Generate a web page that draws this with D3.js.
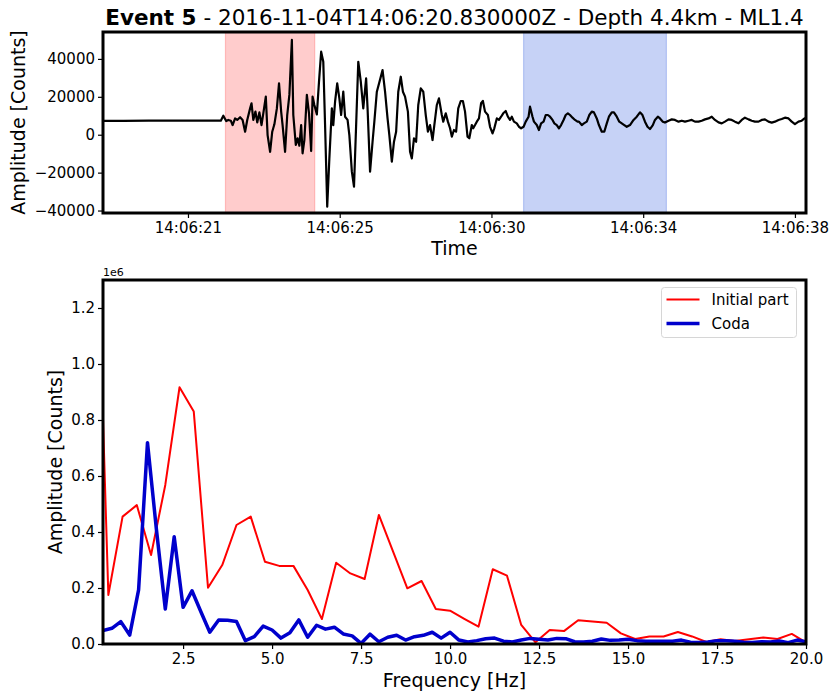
<!DOCTYPE html>
<html>
<head>
<meta charset="utf-8">
<script src="https://cdn.jsdelivr.net/npm/d3@7"></script>
<style>
  body { margin: 0; background: #fff; }
  text { font-family: "DejaVu Sans", sans-serif; fill: #000; }
</style>
</head>
<body>
<svg id="chart" width="832" height="691"></svg>
<script>
// ---- Event metadata ----
const titleBold = "Event 5";
const titleRest = " - 2016-11-04T14:06:20.830000Z - Depth 4.4km - ML1.4";

// ---- Waveform: [seconds after 14:06:00 UTC, amplitude in counts] ----
const tracePoints = [
  [19.22, 7300], [19.80, 7350], [20.50, 7400], [21.20, 7450], [21.90, 7450], [22.45, 7400],
  [22.52, 7400], [22.59, 10000], [22.67, 7200], [22.73, 7800], [22.80, 7400], [22.85, 5100],
  [22.92, 8600], [22.98, 7800], [23.06, 9200], [23.13, 7800], [23.20, 1600], [23.26, 7800],
  [23.34, 13900], [23.38, 16600], [23.43, 7800], [23.49, 12200], [23.54, 6500], [23.60, 11800],
  [23.66, 5100], [23.71, 11300], [23.78, 20100], [23.83, -200], [23.90, -9000], [23.96, 1600],
  [24.02, 5500], [24.09, 13900], [24.15, 27100], [24.21, 12200], [24.25, 5100], [24.32, -9000],
  [24.38, 10400], [24.44, 21000], [24.51, 50000], [24.55, 10400], [24.62, -5400], [24.67, -1900],
  [24.72, -5800], [24.77, 5100], [24.81, -9800], [24.86, -2800], [24.93, 21000], [24.99, 11300],
  [25.05, -8600], [25.09, 20100], [25.14, 15700], [25.21, 10700], [25.27, 28000], [25.33, 43800],
  [25.39, 38500], [25.44, 5100], [25.50, -38000], [25.56, -12500],
  [25.63, 13900], [25.67, 5100], [25.72, 17400], [25.78, 27100], [25.84, 19200], [25.89, 10400],
  [25.95, 22700], [26.00, 9500], [26.07, 7800], [26.12, -200], [26.19, -19500], [26.25, -27400],
  [26.31, 5100], [26.37, 38500], [26.44, 28000], [26.51, 13900], [26.59, 29700], [26.63, 13900],
  [26.70, -19500], [26.77, -3700], [26.82, 6900], [26.89, 22700], [27.05, 34100], [27.12, 22700],
  [27.19, 8600], [27.24, -200], [27.31, -14200], [27.37, -3700], [27.43, 1600], [27.49, 22700],
  [27.56, 30600], [27.62, 22700], [27.68, 20100], [27.76, 12200], [27.82, -9000], [27.87, -12500],
  [27.93, -1900], [27.99, -3700], [28.05, 15700], [28.12, 24500], [28.19, 22700], [28.26, 10400],
  [28.32, 1600], [28.38, 5100], [28.45, -2800], [28.50, 5100], [28.57, 15700], [28.63, 19200],
  [28.71, 10400], [28.75, 6900], [28.82, 11300], [28.88, 6900], [28.94, 3400], [28.99, -1000],
  [29.05, 2500], [29.11, 1600], [29.17, 13900], [29.24, 17800], [29.30, 17800], [29.36, 12200],
  [29.43, -1000], [29.48, -1900], [29.55, 5100], [29.59, 3400], [29.64, 5100], [29.69, 6900],
  [29.75, 8600], [29.81, 16600], [29.86, 17800], [29.92, 12200], [30.00, 10400], [30.06, 4200],
  [30.13, 700], [30.18, 3400], [30.25, 8600], [30.31, 7800], [30.37, 9500], [30.43, 11300],
  [30.50, 12500], [30.56, 9500], [30.62, 7800], [30.67, 9500], [30.73, 6900], [30.81, 6000],
  [30.87, 4200], [30.93, 3400], [31.00, 4200], [31.06, 6900], [31.14, 9500], [31.18, 14800],
  [31.25, 9500], [31.29, 6900], [31.37, 5100], [31.43, 2500], [31.49, 6000], [31.56, 6900],
  [31.62, 10400], [31.68, 10400], [31.74, 9500], [31.81, 7800], [31.86, 6000], [31.93, 5100],
  [31.99, 3400], [32.05, 5100], [32.12, 7800], [32.18, 10400], [32.24, 11300], [32.30, 10400],
  [32.37, 9000], [32.44, 7800], [32.51, 6900],
  [32.55, 6900], [32.63, 5100], [32.69, 6000], [32.77, 6900], [32.84, 10400], [32.91, 12200],
  [32.97, 11800], [33.05, 8600], [33.11, 5100], [33.19, 1600], [33.26, 1600], [33.33, 6000],
  [33.39, 9500], [33.47, 11800], [33.53, 11800], [33.61, 9500], [33.68, 6900], [33.75, 6000],
  [33.82, 5100], [33.89, 4200], [33.98, 5100], [34.08, 7800], [34.17, 9500], [34.26, 11800],
  [34.33, 10400], [34.40, 6900], [34.47, 4200], [34.54, 3000], [34.62, 5100], [34.68, 7800],
  [34.76, 9500], [34.82, 8600], [34.90, 6900], [34.96, 6400], [35.06, 7400], [35.15, 8100],
  [35.24, 7800], [35.34, 6900], [35.43, 7400], [35.52, 6900], [35.62, 7400], [35.71, 7800],
  [35.80, 6900], [35.90, 6900], [35.99, 7400], [36.08, 8100], [36.18, 8600], [36.27, 9500],
  [36.36, 7800], [36.46, 6500], [36.55, 6000], [36.64, 6900], [36.74, 8100], [36.83, 7800],
  [36.92, 6900], [37.02, 6000], [37.11, 7800], [37.20, 9000], [37.30, 8100], [37.39, 7400],
  [37.48, 6900], [37.58, 6900], [37.67, 7800], [37.76, 8100], [37.86, 6900], [37.95, 6400],
  [38.04, 6900], [38.14, 7800], [38.23, 8300], [38.32, 9000], [38.42, 8600], [38.51, 6900],
  [38.60, 5600], [38.70, 6900], [38.79, 7400], [38.87, 8600], [38.91, 9000]
];

// ---- Analysis windows (seconds after 14:06:00) ----
const initialWindow = [22.65, 25.15];
const codaWindow = [31.0, 35.0];

// ---- Time axis ----
const timeDomainSeconds = [19.22, 38.91];
const timeTickSeconds = [21.6, 25.85, 30.1, 34.35, 38.6];
const countDomain = [-41300, 54200];
const countTicks = [-40000, -20000, 0, 20000, 40000];

// ---- Amplitude spectra ----
const initialFreqs = [0, 0.4, 0.8, 1.2, 1.6, 2.0, 2.4, 2.8, 3.2, 3.6, 4.0, 4.4, 4.8, 5.2, 5.6, 6.0,
  6.4, 6.8, 7.2, 7.6, 8.0, 8.4, 8.8, 9.2, 9.6, 10.0, 10.4, 10.8, 11.2, 11.6, 12.0, 12.4, 12.8,
  13.2, 13.6, 14.0, 14.4, 14.8, 15.2, 15.6, 16.0, 16.4, 16.8, 17.2, 17.6, 18.0, 18.4, 18.8,
  19.2, 19.6, 20.0];
const initialAmp = [1850000, 175000, 455000, 496000, 318000, 568000, 917000, 830000, 201000,
  282000, 425000, 455000, 294000, 279000, 279000, 193000, 89000, 290000, 252000, 232000,
  461000, 330000, 199000, 225000, 125000, 119000, 90000, 62000, 267000, 244000, 68000, 6000,
  50000, 46000, 85000, 80000, 76000, 38000, 18000, 27000, 27000, 43000, 27000, 7000, 17000,
  11000, 17000, 23000, 18000, 36000, 6000];

const codaFreqs = [0.25, 0.5, 0.75, 1.0, 1.25, 1.5, 1.75, 2.0, 2.25, 2.5, 2.75, 3.0, 3.25, 3.5,
  3.75, 4.0, 4.25, 4.5, 4.75, 5.0, 5.25, 5.5, 5.75, 6.0, 6.25, 6.5, 6.75, 7.0, 7.25, 7.5, 7.75,
  8.0, 8.25, 8.5, 8.75, 9.0, 9.25, 9.5, 9.75, 10.0, 10.25, 10.5, 10.75, 11.0, 11.25, 11.5, 11.75,
  12.0, 12.25, 12.5, 12.75, 13.0, 13.25, 13.5, 13.75, 14.0, 14.25, 14.5, 14.75, 15.0, 15.25,
  15.5, 15.75, 16.0, 16.25, 16.5, 16.75, 17.0, 17.25, 17.5, 17.75, 18.0, 18.25, 18.5, 18.75,
  19.0, 19.25, 19.5, 19.75, 20.0];
const codaAmp = [48000, 56000, 80000, 32000, 193000, 719000, 410000, 125000, 383000, 131000,
  190000, 115000, 42000, 86000, 85000, 80000, 12000, 26000, 64000, 50000, 21000, 40000, 86000,
  24000, 67000, 53000, 60000, 36000, 29000, 2000, 35000, 8000, 24000, 31000, 14000, 26000,
  31000, 42000, 21000, 42000, 14000, 7000, 12000, 19000, 21000, 10000, 7000, 14000, 20000,
  17000, 14000, 20000, 19000, 8000, 7000, 10000, 18000, 13000, 14000, 17000, 12000, 10000,
  10000, 10000, 10000, 14000, 6000, 5000, 7000, 12000, 12000, 10000, 6000, 5000, 8000, 7000,
  11000, 5000, 14000, 8000];

const freqDomain = [0.25, 20];
const freqTicks = [2.5, 5.0, 7.5, 10.0, 12.5, 15.0, 17.5, 20.0];
const ampDomain = [0, 1300000];
const ampTicks = [0, 200000, 400000, 600000, 800000, 1000000, 1200000];

const seriesNames = ["Initial part", "Coda"];
const seriesColors = ["#ff0000", "#0000cc"];

// ---- Layout ----
const svg = d3.select("#chart");
const topBox = { left: 103, right: 806, top: 32, bottom: 213 };
const botBox = { left: 103, right: 806, top: 280, bottom: 644 };
const tickFont = "15px";
const labelFont = "19px";

const t0 = Date.UTC(2016, 10, 4, 14, 6, 0);
const toDate = s => new Date(t0 + s * 1000);

function styleAxis(g) {
  g.select(".domain").remove();
  g.selectAll(".tick line").attr("stroke", "#000").attr("stroke-width", 1.2);
  g.selectAll(".tick text").attr("font-size", tickFont).attr("font-family", "DejaVu Sans").attr("fill", "#000");
}

function frame(box) {
  svg.append("rect")
    .attr("x", box.left).attr("y", box.top)
    .attr("width", box.right - box.left).attr("height", box.bottom - box.top)
    .attr("fill", "none").attr("stroke", "#000").attr("stroke-width", 3);
}

function clip(id, box) {
  svg.append("clipPath").attr("id", id).append("rect")
    .attr("x", box.left).attr("y", box.top)
    .attr("width", box.right - box.left).attr("height", box.bottom - box.top);
}

// ================= Waveform panel =================
const xTime = d3.scaleUtc().domain(timeDomainSeconds.map(toDate)).range([topBox.left, topBox.right]);
const yCounts = d3.scaleLinear().domain(countDomain).range([topBox.bottom, topBox.top]);
clip("clipTop", topBox);

const topPlot = svg.append("g").attr("clip-path", "url(#clipTop)");
[[initialWindow, "#ff0000", 0.2], [codaWindow, "#4169e1", 0.3]].forEach(([w, c, a]) => {
  topPlot.append("rect")
    .attr("x", xTime(toDate(w[0]))).attr("y", topBox.top)
    .attr("width", xTime(toDate(w[1])) - xTime(toDate(w[0])))
    .attr("height", topBox.bottom - topBox.top)
    .attr("fill", c).attr("fill-opacity", a)
    .attr("stroke", c).attr("stroke-opacity", a).attr("stroke-width", 1.2);
});

topPlot.append("path")
  .datum(tracePoints)
  .attr("fill", "none").attr("stroke", "#000").attr("stroke-width", 2.2)
  .attr("stroke-linejoin", "round")
  .attr("d", d3.line().x(d => xTime(toDate(d[0]))).y(d => yCounts(d[1])));

svg.append("g").attr("transform", `translate(0,${topBox.bottom})`)
  .call(d3.axisBottom(xTime).tickValues(timeTickSeconds.map(toDate))
    .tickFormat(d3.utcFormat("%H:%M:%S")).tickSize(5).tickSizeOuter(0).tickPadding(4))
  .call(styleAxis);

svg.append("g").attr("transform", `translate(${topBox.left},0)`)
  .call(d3.axisLeft(yCounts).tickValues(countTicks).tickFormat(d => d < 0 ? "\u2212" + Math.abs(d) : d)
    .tickSize(5).tickSizeOuter(0).tickPadding(3))
  .call(styleAxis);

frame(topBox);

// title
const title = svg.append("text")
  .attr("x", (topBox.left + topBox.right) / 2).attr("y", 25)
  .attr("text-anchor", "middle").attr("font-size", "21.5px");
title.append("tspan").attr("font-weight", "bold").text(titleBold);
title.append("tspan").text(titleRest);

svg.append("text").attr("x", (topBox.left + topBox.right) / 2).attr("y", 255)
  .attr("text-anchor", "middle").attr("font-size", labelFont).text("Time");
svg.append("text")
  .attr("transform", `translate(25,${(topBox.top + topBox.bottom) / 2}) rotate(-90)`)
  .attr("text-anchor", "middle").attr("font-size", labelFont).text("Amplitude [Counts]");

// ================= Spectrum panel =================
const xFreq = d3.scaleLinear().domain(freqDomain).range([botBox.left, botBox.right]);
const yAmp = d3.scaleLinear().domain(ampDomain).range([botBox.bottom, botBox.top]);
clip("clipBot", botBox);

const botPlot = svg.append("g").attr("clip-path", "url(#clipBot)");
const specLine = d3.line().x(d => xFreq(d[0])).y(d => yAmp(d[1]));
botPlot.append("path")
  .datum(initialFreqs.map((f, i) => [f, initialAmp[i]]))
  .attr("fill", "none").attr("stroke", seriesColors[0]).attr("stroke-width", 2)
  .attr("stroke-linejoin", "round").attr("d", specLine);
botPlot.append("path")
  .datum(codaFreqs.map((f, i) => [f, codaAmp[i]]))
  .attr("fill", "none").attr("stroke", seriesColors[1]).attr("stroke-width", 3.5)
  .attr("stroke-linejoin", "round").attr("d", specLine);

svg.append("g").attr("transform", `translate(0,${botBox.bottom})`)
  .call(d3.axisBottom(xFreq).tickValues(freqTicks).tickFormat(d3.format(".1f"))
    .tickSize(5).tickSizeOuter(0).tickPadding(4))
  .call(styleAxis);

svg.append("g").attr("transform", `translate(${botBox.left},0)`)
  .call(d3.axisLeft(yAmp).tickValues(ampTicks).tickFormat(d => (d / 1e6).toFixed(1))
    .tickSize(5).tickSizeOuter(0).tickPadding(3))
  .call(styleAxis);

frame(botBox);

svg.append("text").attr("x", botBox.left).attr("y", 276)
  .attr("font-size", "11px").text("1e6");

svg.append("text").attr("x", (botBox.left + botBox.right) / 2).attr("y", 687)
  .attr("text-anchor", "middle").attr("font-size", labelFont).text("Frequency [Hz]");
svg.append("text")
  .attr("transform", `translate(62,${(botBox.top + botBox.bottom) / 2}) rotate(-90)`)
  .attr("text-anchor", "middle").attr("font-size", labelFont).text("Amplitude [Counts]");

// legend
const legend = svg.append("g").attr("transform", "translate(661.5,287.5)");
legend.append("rect").attr("width", 135).attr("height", 50).attr("rx", 3)
  .attr("fill", "#fff").attr("fill-opacity", 0.8).attr("stroke", "#d6d6d6").attr("stroke-width", 1);
seriesNames.forEach((name, i) => {
  const yy = 12 + i * 24;
  legend.append("line").attr("x1", 5).attr("x2", 38).attr("y1", yy).attr("y2", yy)
    .attr("stroke", seriesColors[i]).attr("stroke-width", i === 0 ? 2 : 3.5);
  legend.append("text").attr("x", 50).attr("y", yy + 5.5).attr("font-size", tickFont).text(name);
});
</script>
</body>
</html>
